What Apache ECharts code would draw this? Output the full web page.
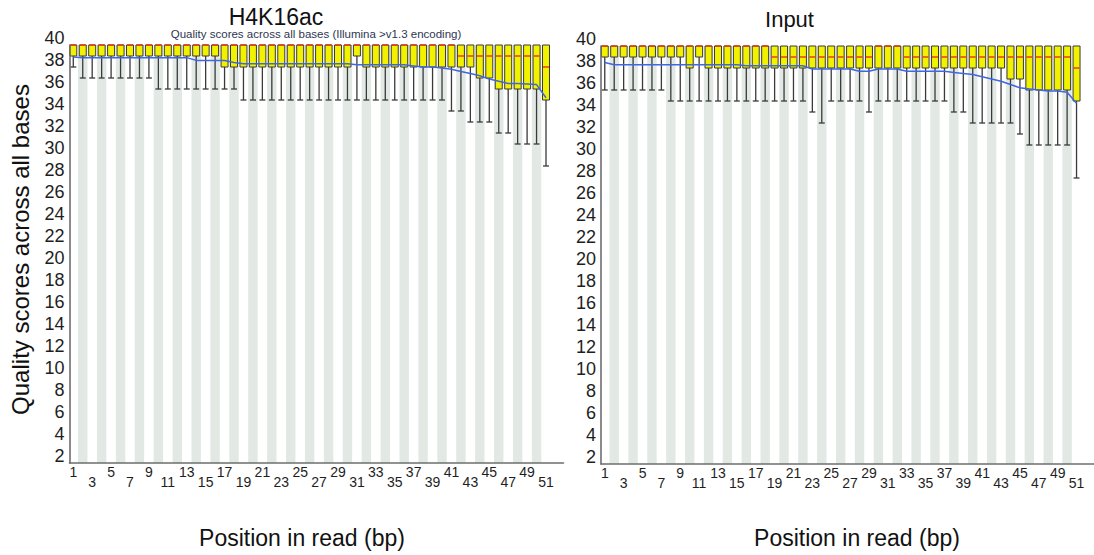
<!DOCTYPE html>
<html>
<head>
<meta charset="utf-8">
<title>Per-base quality</title>
<script src="https://cdn.jsdelivr.net/npm/echarts@6/dist/echarts.min.js"></script>
<style>
  html, body { margin: 0; padding: 0; background: #ffffff; }
  #chart { width: 1094px; height: 555px; }
</style>
</head>
<body>
<div id="chart"></div>
<script>
// Read positions (bp)
const positions = [1,2,3,4,5,6,7,8,9,10,11,12,13,14,15,16,17,18,19,20,21,22,23,24,25,26,
  27,28,29,30,31,32,33,34,35,36,37,38,39,40,41,42,43,44,45,46,47,48,49,50,51];
// Position labels, drawn on two staggered rows
const xLabelsUpper = [1,5,9,13,17,21,25,29,33,37,41,45,49];
const xLabelsLower = [3,7,11,15,19,23,27,31,35,39,43,47,51];

// H4K16ac: per-position quality distribution
const h4Upper90 = [40,40,40,40,40,40,40,40,40,40,40,40,40,40,40,40,40,40,40,40,40,40,40,40,40,40,
  40,40,40,40,40,40,40,40,40,40,40,40,40,40,40,40,40,40,40,40,40,40,40,40,40];
const h4UpperQuartile = [40,40,40,40,40,40,40,40,40,40,40,40,40,40,40,40,40,40,40,40,40,40,40,40,40,40,
  40,40,40,40,40,40,40,40,40,40,40,40,40,40,40,40,40,40,40,40,40,40,40,40,40];
const h4Median = [40,40,40,40,40,40,40,40,40,40,40,40,40,40,40,40,40,40,40,40,40,40,40,40,40,40,
  40,40,40,40,40,40,40,40,40,40,40,40,40,40,40,39,39,39,39,39,39,39,39,39,38];
const h4LowerQuartile = [39,39,39,39,39,39,39,39,39,39,39,39,39,39,39,39,38,38,38,38,38,38,38,38,38,38,
  38,38,38,38,39,38,38,38,38,38,38,38,38,38,38,38,38,37,37,36,36,36,36,36,35];
const h4Lower10 = [38,37,37,37,37,37,37,37,37,36,36,36,36,36,36,36,36,36,35,35,35,35,35,35,35,35,
  35,35,35,35,35,35,35,35,35,35,35,35,35,35,34,34,33,33,33,32,32,31,31,31,29];
const h4Mean = [38.9,38.85,38.85,38.85,38.85,38.85,38.85,38.85,38.85,38.85,38.85,38.85,38.85,38.6,38.6,38.6,38.6,38.4,38.3,38.3,
  38.3,38.3,38.3,38.3,38.3,38.3,38.3,38.3,38.3,38.3,38.2,38.2,38.2,38.2,38.2,38.2,38.1,38.0,38.0,37.9,
  37.8,37.6,37.4,37.2,36.9,36.7,36.5,36.5,36.45,36.4,35.2];

// Input: per-position quality distribution
const inUpper90 = [40,40,40,40,40,40,40,40,40,40,40,40,40,40,40,40,40,40,40,40,40,40,40,40,40,40,
  40,40,40,40,40,40,40,40,40,40,40,40,40,40,40,40,40,40,40,40,40,40,40,40,40];
const inUpperQuartile = [40,40,40,40,40,40,40,40,40,40,40,40,40,40,40,40,40,40,40,40,40,40,40,40,40,40,
  40,40,40,40,40,40,40,40,40,40,40,40,40,40,40,40,40,40,40,40,40,40,40,40,40];
const inMedian = [40,40,40,40,40,40,40,40,40,40,40,40,40,40,40,40,40,40,39,39,39,39,39,39,39,39,
  39,39,39,40,40,40,39,39,39,39,39,39,39,39,39,39,39,39,39,39,39,39,39,39,38];
const inLowerQuartile = [39,39,39,39,39,39,39,39,39,38,39,38,38,38,38,38,38,38,38,38,38,38,38,38,38,38,
  38,38,38,38,38,38,38,38,38,38,38,38,38,38,38,38,38,37,37,36,36,36,36,36,35];
const inLower10 = [36,36,36,36,36,36,36,35,35,35,35,35,35,35,35,35,35,35,35,35,35,35,34,33,35,35,
  35,35,34,35,35,35,35,35,35,35,35,34,34,33,33,33,33,33,32,31,31,31,31,31,28];
const inMean = [38.5,38.3,38.3,38.3,38.3,38.3,38.3,38.3,38.3,38.3,38.3,38.3,38.3,38.3,38.3,38.2,38.2,38.2,38.2,38.2,
  38.2,38.2,37.9,37.9,37.9,37.9,37.9,37.7,37.7,37.9,37.9,37.9,37.7,37.7,37.7,37.7,37.7,37.6,37.5,37.4,
  37.2,37.0,36.8,36.5,36.2,36.1,36.0,35.9,35.9,35.8,34.8];

const FONT = '"Liberation Sans", Arial, Helvetica, sans-serif';

function boxRows(p10, q1, med, q3, p90) {
  return positions.map((p, i) => [p, p10[i], q1[i], med[i], q3[i], p90[i]]);
}
function meanRows(mean) {
  return positions.map((p, i) => [p, mean[i]]);
}
const evenPositions = positions.filter(p => p % 2 === 0).map(p => [p]);

// Alternating background stripe, one read position wide, full axis height
function renderStripe(params, api) {
  const x = api.value(0);
  const a = api.coord([x - 0.5, 40]);
  const b = api.coord([x + 0.5, 2]);
  return {
    type: 'rect',
    shape: { x: a[0], y: a[1], width: b[0] - a[0], height: b[1] - a[1] },
    style: { fill: '#e2e9e5' }
  };
}

// Box (quartiles), whiskers (10th / 90th percentile) and median line
function renderBox(params, api) {
  const x = api.value(0);
  const p10 = api.value(1), q1 = api.value(2), med = api.value(3), q3 = api.value(4), p90 = api.value(5);
  const cell = api.size([1, 0])[0];
  const bw = cell * 0.74;
  const cx = api.coord([x, q1])[0];
  const yP10 = api.coord([x, p10])[1];
  const yQ1 = api.coord([x, q1])[1];
  const yMed = api.coord([x, med])[1];
  const yQ3 = api.coord([x, q3])[1];
  const yP90 = api.coord([x, p90])[1];
  const tw = bw * 0.85;
  const stroke = { stroke: '#3a3a3a', lineWidth: 1.3 };
  const children = [];
  if (yP10 > yQ1) {
    children.push({ type: 'line', shape: { x1: cx, y1: yQ1, x2: cx, y2: yP10 }, style: stroke });
    children.push({ type: 'line', shape: { x1: cx - tw / 2, y1: yP10, x2: cx + tw / 2, y2: yP10 }, style: stroke });
  }
  if (yP90 < yQ3) {
    children.push({ type: 'line', shape: { x1: cx, y1: yQ3, x2: cx, y2: yP90 }, style: stroke });
    children.push({ type: 'line', shape: { x1: cx - tw / 2, y1: yP90, x2: cx + tw / 2, y2: yP90 }, style: stroke });
  }
  children.push({
    type: 'rect',
    shape: { x: cx - bw / 2, y: yQ3, width: bw, height: Math.max(yQ1 - yQ3, 1) },
    style: { fill: '#f2f200', stroke: '#3a3a3a', lineWidth: 1 }
  });
  children.push({
    type: 'line',
    shape: { x1: cx - bw / 2 + 0.5, y1: yMed, x2: cx + bw / 2 - 0.5, y2: yMed },
    style: { stroke: '#e8301a', lineWidth: 1.4 }
  });
  return { type: 'group', children: children };
}

function xAxesFor(gridIndex) {
  const common = {
    gridIndex: gridIndex,
    type: 'value',
    position: 'bottom',
    offset: 0,
    z: 10,
    min: 0.6,
    max: 52.85,
    axisTick: { show: false },
    splitLine: { show: false }
  };
  return [
    Object.assign({}, common, {
      axisLine: { show: true, onZero: false, lineStyle: { color: '#6e6e6e', width: 1.6 } },
      axisLabel: { customValues: xLabelsUpper, fontSize: 14, color: '#1e1e1e', fontFamily: FONT, margin: 2 }
    }),
    Object.assign({}, common, {
      axisLine: { show: false, onZero: false },
      axisLabel: { customValues: xLabelsLower, fontSize: 14, color: '#1e1e1e', fontFamily: FONT, margin: 12 }
    })
  ];
}

function yAxisFor(gridIndex) {
  return {
    gridIndex: gridIndex,
    type: 'value',
    z: 10,
    min: 2,
    max: 40,
    interval: 2,
    axisLine: { show: true, onZero: false, lineStyle: { color: '#6e6e6e', width: 1.6 } },
    axisTick: { show: false },
    splitLine: { show: false },
    axisLabel: { fontSize: 18, color: '#1e1e1e', fontFamily: FONT, margin: 5, verticalAlign: 'bottom', lineHeight: 14 }
  };
}

function panelSeries(xAxisIndex, yAxisIndex, boxes, mean) {
  return [
    {
      type: 'custom', xAxisIndex: xAxisIndex, yAxisIndex: yAxisIndex, z: 1,
      renderItem: renderStripe, data: evenPositions, silent: true
    },
    {
      type: 'custom', xAxisIndex: xAxisIndex, yAxisIndex: yAxisIndex, z: 2,
      renderItem: renderBox, data: boxes, silent: true,
      encode: { x: 0, y: [1, 2, 3, 4, 5] }
    },
    {
      type: 'line', xAxisIndex: xAxisIndex, yAxisIndex: yAxisIndex, z: 3,
      data: meanRows(mean), showSymbol: false, symbol: 'none', silent: true,
      lineStyle: { color: '#3f66e3', width: 1.5 }
    }
  ];
}

const chart = echarts.init(document.getElementById('chart'), null, { renderer: 'svg' });

chart.setOption({
  animation: false,
  backgroundColor: '#ffffff',
  grid: [
    { left: 69.5, top: 45, width: 494, height: 418 },
    { left: 601, top: 46, width: 493, height: 418 }
  ],
  xAxis: xAxesFor(0).concat(xAxesFor(1)),
  yAxis: [yAxisFor(0), yAxisFor(1)],
  series: []
    .concat(panelSeries(0, 0, boxRows(h4Lower10, h4LowerQuartile, h4Median, h4UpperQuartile, h4Upper90), h4Mean))
    .concat(panelSeries(2, 1, boxRows(inLower10, inLowerQuartile, inMedian, inUpperQuartile, inUpper90), inMean)),
  graphic: [
    { type: 'text', x: 276, y: 16.5, style: { text: 'H4K16ac', font: '23px ' + FONT, lineHeight: 17, fill: '#111111', align: 'center', verticalAlign: 'middle' } },
    { type: 'text', x: 316, y: 33.5, style: { text: 'Quality scores across all bases (Illumina >v1.3 encoding)', font: '11.5px ' + FONT, lineHeight: 10, fill: '#2e3552', align: 'center', verticalAlign: 'middle' } },
    { type: 'text', x: 789.5, y: 19, style: { text: 'Input', font: '22px ' + FONT, fill: '#111111', align: 'center', verticalAlign: 'middle' } },
    { type: 'text', x: 20, y: 249.5, rotation: Math.PI / 2, style: { text: 'Quality scores across all bases', font: '24px ' + FONT, fill: '#111111', align: 'center', verticalAlign: 'middle' } },
    { type: 'text', x: 302, y: 538, style: { text: 'Position in read (bp)', font: '23px ' + FONT, fill: '#111111', align: 'center', verticalAlign: 'middle' } },
    { type: 'text', x: 857, y: 538, style: { text: 'Position in read (bp)', font: '23px ' + FONT, fill: '#111111', align: 'center', verticalAlign: 'middle' } }
  ]
});
</script>
</body>
</html>
